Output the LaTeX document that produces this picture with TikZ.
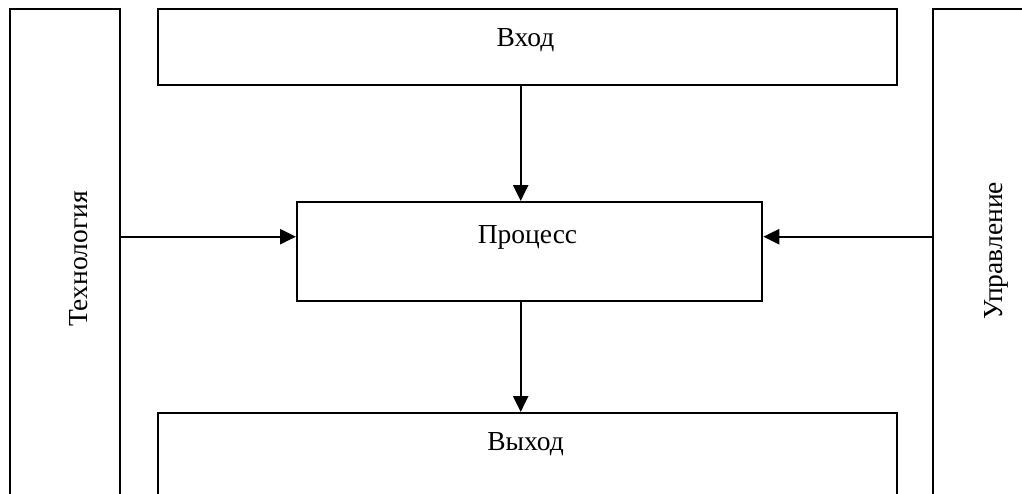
\documentclass[tikz,border=0pt]{standalone}
\usepackage{fontspec}
\setmainfont{Liberation Serif}
\usetikzlibrary{arrows.meta}
\begin{document}
\begin{tikzpicture}[x=1pt,y=-1pt,
  box/.style={draw=black,line width=2.3pt,rectangle,inner sep=0pt,anchor=north west},
  lbl/.style={font=\fontsize{27.5}{32}\selectfont,inner sep=0pt,anchor=base},
  arr/.style={line width=2.3pt,-{Triangle[length=16pt,width=15pt]}}]
\useasboundingbox (0,0) rectangle (1022,493);
\node[box,minimum width=110pt,minimum height=492pt] (tech) at (8.5,8) {};
\node[box,minimum width=110pt,minimum height=492pt] (ctrl) at (932,8) {};
\node[box,minimum width=739pt,minimum height=76pt] (in) at (156.5,8) {};
\node[box,minimum width=739pt,minimum height=88pt] (out) at (156.5,412) {};
\node[box,minimum width=465pt,minimum height=99pt] (proc) at (296,201) {};
\node[lbl] (tin) at (525.5,46) {Вход};
\node[lbl] (tproc) at (527.5,243) {Процесс};
\node[lbl] (tout) at (525.5,450) {Выход};
\node[lbl,rotate=90] (ttech) at (87,259) {Технология};
\node[lbl,rotate=90] (tctrl) at (1002,251) {Управление};
\coordinate (ax) at (520.7,0);
\coordinate (ay) at (0,236.7);
\draw[arr] (in.south -| ax) -- (proc.north -| ax);
\draw[arr] (proc.south -| ax) -- (out.north -| ax);
\draw[arr] (tech.east |- ay) -- (proc.west |- ay);
\draw[arr] (ctrl.west |- ay) -- (proc.east |- ay);
\end{tikzpicture}
\end{document}
